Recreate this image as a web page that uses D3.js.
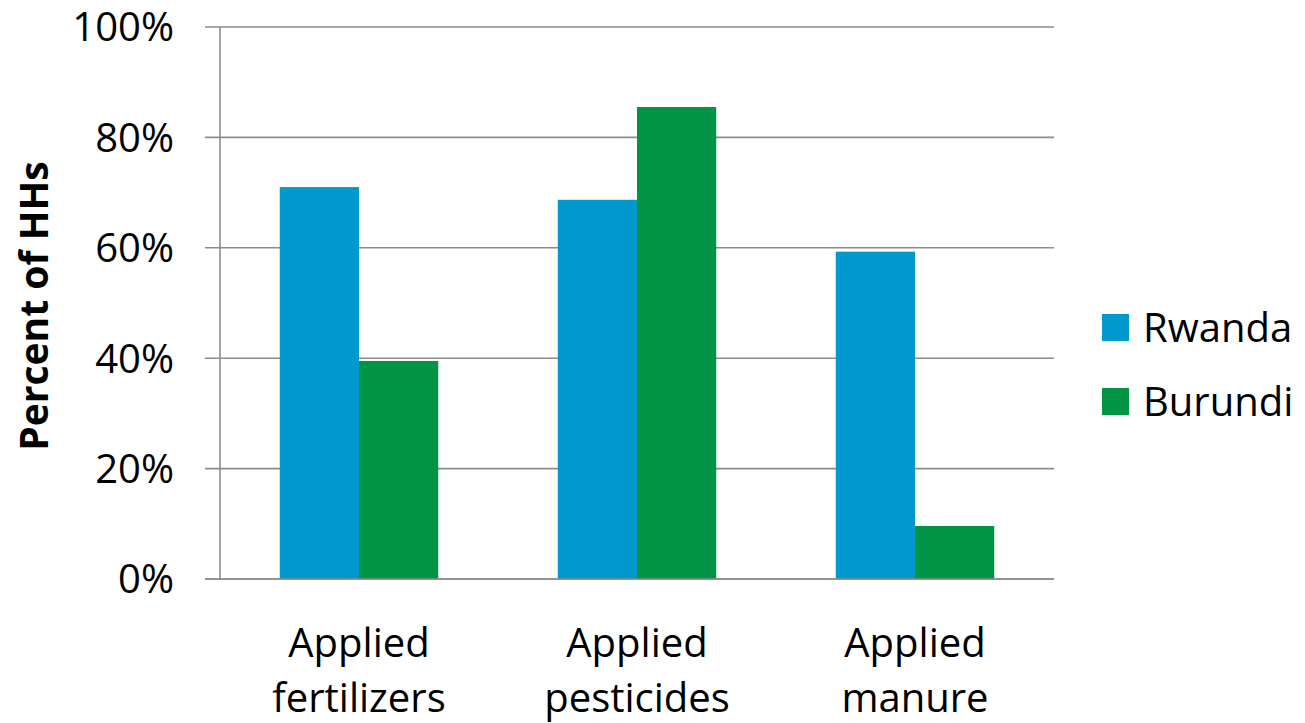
<!DOCTYPE html>
<html>
<head>
<meta charset="utf-8">
<script src="https://cdn.jsdelivr.net/npm/d3@7"></script>
<style>
  html, body { margin: 0; padding: 0; background: #fff; }
  svg { display: block; }
  text { font-family: "Open Sans", "Noto Sans", sans-serif; fill: #000; }
</style>
</head>
<body>
<svg id="chart" width="1305" height="723"></svg>
<script>
// Share of households using each input, by country
const categories = [["Applied", "fertilizers"], ["Applied", "pesticides"], ["Applied", "manure"]];
const seriesNames = ["Rwanda", "Burundi"];
const rwanda = [0.71, 0.687, 0.593];
const burundi = [0.395, 0.855, 0.096];
const yTicks = [0, 0.2, 0.4, 0.6, 0.8, 1.0];
const colors = ["#0099CE", "#009544"];

const values = [rwanda, burundi];
const svg = d3.select("#chart");
const margin = { left: 220, right: 251, top: 27, bottom: 144 };
const W = 1305, H = 723;
const x0 = margin.left, x1 = W - margin.right;
const y0 = H - margin.bottom, y1 = margin.top;

const x = d3.scaleBand().domain(d3.range(categories.length)).range([x0, x1]).paddingInner(0.43).paddingOuter(0.215);
const xs = d3.scaleBand().domain(d3.range(seriesNames.length)).range([0, x.bandwidth()]);
const y = d3.scaleLinear().domain([0, 1]).range([y0, y1]);

// horizontal gridlines with outward ticks
svg.append("g")
  .selectAll("line")
  .data(yTicks)
  .join("line")
  .attr("x1", x0 - 15).attr("x2", x1)
  .attr("y1", d => y(d)).attr("y2", d => y(d))
  .attr("stroke", "#8c8c8c").attr("stroke-width", 1.6);

// vertical axis line
svg.append("line")
  .attr("x1", x0).attr("x2", x0).attr("y1", y1).attr("y2", y0)
  .attr("stroke", "#8c8c8c").attr("stroke-width", 1.6);

// bars
const groups = svg.append("g").selectAll("g")
  .data(categories.map((c, i) => i))
  .join("g")
  .attr("transform", i => `translate(${x(i)},0)`);

groups.selectAll("rect")
  .data(i => seriesNames.map((s, k) => ({ k, v: values[k][i] })))
  .join("rect")
  .attr("x", d => xs(d.k))
  .attr("width", xs.bandwidth())
  .attr("y", d => y(d.v))
  .attr("height", d => y0 - y(d.v))
  .attr("fill", d => colors[d.k]);

// redraw baseline over bars
svg.append("line")
  .attr("x1", x0 - 15).attr("x2", x1).attr("y1", y0).attr("y2", y0)
  .attr("stroke", "#8c8c8c").attr("stroke-width", 1.6);

// y tick labels
svg.append("g").selectAll("text")
  .data(yTicks)
  .join("text")
  .attr("x", 174)
  .attr("y", d => y(d))
  .attr("dy", "0.36em")
  .attr("text-anchor", "end")
  .style("font-size", "40px")
  .text(d => d3.format(".0%")(d));

// category labels (two lines)
const catText = svg.append("g").selectAll("text")
  .data(categories)
  .join("text")
  .attr("text-anchor", "middle")
  .attr("transform", (d, i) => `translate(${x(i) + x.bandwidth() / 2},0)`)
  .style("font-size", "40px");
catText.selectAll("tspan")
  .data(d => d)
  .join("tspan")
  .attr("x", 0)
  .attr("y", (d, j) => 657 + j * 55)
  .text(d => d);

// y axis title
svg.append("text")
  .attr("transform", "translate(48,306) rotate(-90)")
  .attr("text-anchor", "middle")
  .style("font-size", "39px")
  .style("font-weight", "bold")
  .text("Percent of HHs");

// legend
const legend = svg.append("g").selectAll("g")
  .data(seriesNames)
  .join("g")
  .attr("transform", (d, i) => `translate(1102,${314 + i * 74})`);
legend.append("rect")
  .attr("width", 27).attr("height", 27)
  .attr("fill", (d, i) => colors[i]);
legend.append("text")
  .attr("x", 41).attr("y", 13.5).attr("dy", "0.36em")
  .style("font-size", "40px")
  .text(d => d);
</script>
</body>
</html>
